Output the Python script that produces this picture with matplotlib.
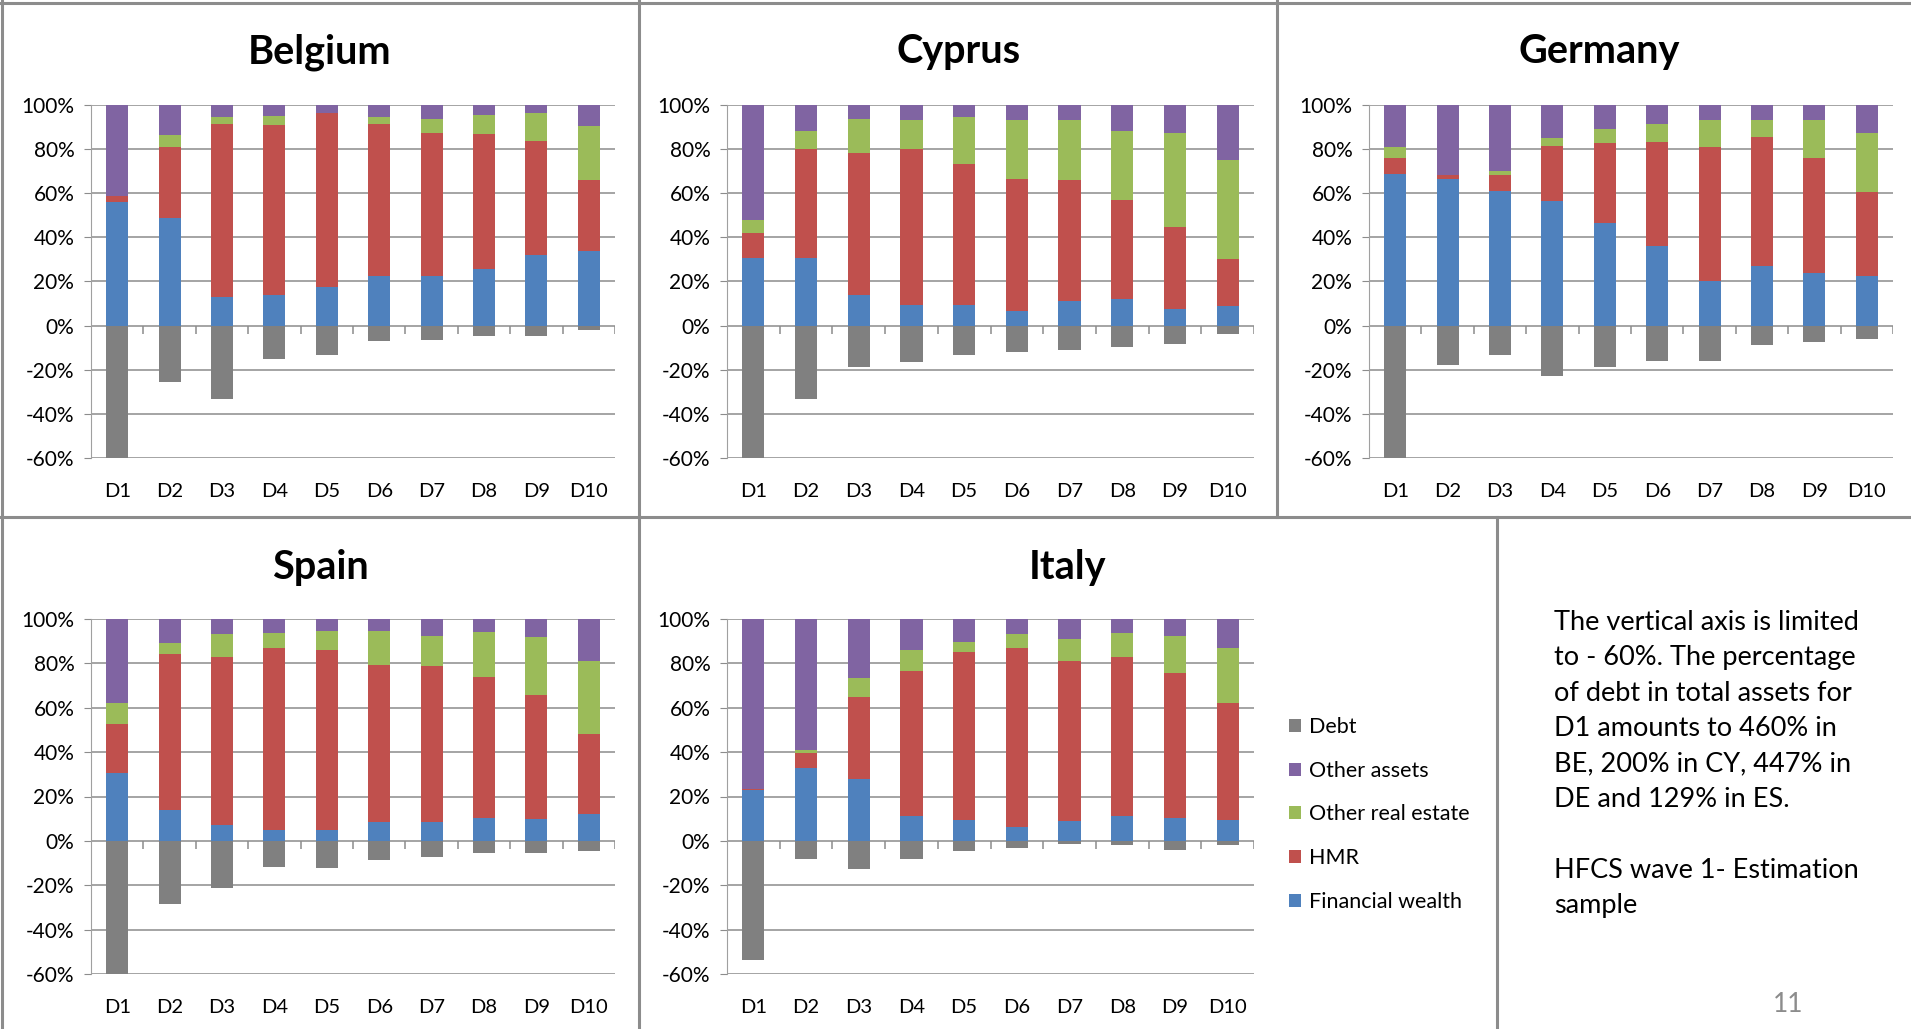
import matplotlib
matplotlib.use("Agg")
import matplotlib.pyplot as plt
import numpy as np
from matplotlib.lines import Line2D
from matplotlib.ticker import FuncFormatter

plt.rcParams['font.family'] = ['Lato', 'DejaVu Sans']

deciles = ['D1', 'D2', 'D3', 'D4', 'D5', 'D6', 'D7', 'D8', 'D9', 'D10']
series = ['Financial wealth', 'HMR', 'Other real estate', 'Other assets', 'Debt']
colors = ['#4F81BD', '#C0504D', '#9BBB59', '#8064A2', '#808080']

# shares in % of total assets
be_fin = [56.1, 48.9, 12.8, 14.1, 17.4, 22.6, 22.6, 25.7, 32.2, 33.8]
be_hmr = [2.5, 31.9, 78.8, 77.0, 78.8, 69.0, 64.9, 61.2, 51.7, 32.1]
be_ore = [0.0, 5.7, 3.1, 4.1, 0.0, 3.1, 6.2, 8.7, 12.3, 24.6]
be_oth = [41.4, 13.5, 5.3, 4.8, 3.8, 5.3, 6.3, 4.4, 3.8, 9.5]
be_debt = [-460, -25.4, -33.1, -15.0, -13.1, -6.8, -6.3, -4.8, -4.8, -1.8]

cy_fin = [30.8, 30.8, 14.1, 9.5, 9.5, 6.5, 11.1, 12.0, 7.5, 9.0]
cy_hmr = [11.2, 49.4, 64.1, 70.7, 63.6, 59.8, 54.8, 45.0, 37.0, 21.2]
cy_ore = [5.7, 8.2, 15.5, 12.9, 21.6, 26.8, 27.2, 31.0, 42.9, 44.7]
cy_oth = [52.3, 11.6, 6.3, 6.9, 5.3, 6.9, 6.9, 12.0, 12.6, 25.1]
cy_debt = [-200, -33.1, -18.8, -16.7, -13.1, -12.0, -11.0, -9.5, -8.4, -3.8]

de_fin = [68.9, 66.3, 61.1, 56.5, 46.3, 35.9, 20.3, 27.2, 23.9, 22.6]
de_hmr = [7.2, 2.1, 7.3, 24.9, 36.6, 47.4, 60.5, 58.2, 52.2, 38.0]
de_ore = [4.7, 0.0, 1.5, 3.6, 6.1, 8.3, 12.3, 7.7, 17.0, 26.8]
de_oth = [19.2, 31.6, 30.1, 15.0, 11.0, 8.4, 6.9, 6.9, 6.9, 12.6]
de_debt = [-447, -17.7, -13.1, -22.9, -18.8, -16.2, -16.2, -9.0, -7.4, -5.9]

es_fin = [30.6, 14.0, 7.2, 4.8, 4.8, 8.4, 8.4, 10.4, 9.9, 12.3]
es_hmr = [22.3, 70.3, 75.6, 82.1, 81.2, 70.8, 70.2, 63.5, 55.8, 35.9]
es_ore = [9.1, 4.7, 10.3, 6.8, 8.6, 15.4, 13.9, 20.2, 26.3, 33.0]
es_oth = [38.0, 11.0, 6.9, 6.3, 5.4, 5.4, 7.5, 5.9, 8.0, 18.8]
es_debt = [-129, -28.6, -21.4, -11.6, -12.2, -8.6, -7.1, -5.6, -5.6, -4.5]

it_fin = [22.9, 32.8, 28.1, 11.4, 9.5, 6.3, 8.9, 11.4, 10.4, 9.5]
it_hmr = [0.7, 6.6, 36.7, 65.3, 75.5, 80.6, 72.0, 71.5, 65.2, 52.6]
it_ore = [0.0, 1.7, 8.7, 9.2, 4.6, 6.3, 10.2, 10.8, 16.6, 24.8]
it_oth = [76.4, 58.9, 26.5, 14.1, 10.4, 6.8, 8.9, 6.3, 7.8, 13.1]
it_debt = [-53.5, -8.0, -12.6, -8.0, -4.4, -3.3, -1.4, -1.8, -3.9, -1.8]

note = ("The vertical axis is limited\nto - 60%. The percentage\nof debt in total assets for\n"
        "D1 amounts to 460% in\nBE, 200% in CY, 447% in\nDE and 129% in ES.\n\n"
        "HFCS wave 1- Estimation\nsample")

W, H = 1911, 1029
fig = plt.figure(figsize=(W / 100, H / 100), dpi=100)


def px_rect(x0, x1, ytop, ybot):
    return [x0 / W, 1 - ybot / H, (x1 - x0) / W, (ybot - ytop) / H]


def panel(rect, title, title_xy, fin, hmr, ore, oth, debt):
    ax = fig.add_axes(rect)
    x = np.arange(len(deciles))
    bottom = np.zeros(len(deciles))
    bars = []
    for vals, c, lab in zip([fin, hmr, ore, oth], colors[:4], series[:4]):
        b = ax.bar(x, vals, 0.42, bottom=bottom, color=c, label=lab, zorder=2)
        bars.append(b)
        bottom = bottom + np.array(vals)
    bars.append(ax.bar(x, debt, 0.42, color=colors[4], label=series[4], zorder=2))
    ax.set_xlim(-0.5, 9.5)
    ax.set_ylim(-60, 100)
    ax.set_yticks(range(-60, 101, 20))
    ax.yaxis.set_major_formatter(FuncFormatter(lambda v, p: f"{v:.0f}%"))
    ax.set_xticks(x, deciles)
    ax.yaxis.grid(True, color='#8c8c8c', lw=1.1, zorder=0)
    ax.set_axisbelow(True)
    for s in ['top', 'right', 'bottom']:
        ax.spines[s].set_visible(False)
    ax.spines['left'].set_color('#a0a0a0')
    ax.tick_params(axis='y', length=5, color='#8c8c8c', pad=7, labelsize=15)
    ax.tick_params(axis='x', length=0, pad=18, labelsize=14.5)
    ax.vlines(x + 0.5, -3.6, 0, color='#8c8c8c', lw=1.1, zorder=1)
    fig.text(title_xy[0] / W, 1 - title_xy[1] / H, title, fontsize=28.5,
             fontweight='bold', ha='center', va='center')
    return ax, bars


panel(px_rect(91, 615, 105, 458), 'Belgium', (320, 52),
      be_fin, be_hmr, be_ore, be_oth, be_debt)
panel(px_rect(727, 1254, 105, 458), 'Cyprus', (959, 52),
      cy_fin, cy_hmr, cy_ore, cy_oth, cy_debt)
panel(px_rect(1369, 1893, 105, 458), 'Germany', (1599, 52),
      de_fin, de_hmr, de_ore, de_oth, de_debt)
panel(px_rect(91, 615, 619, 974), 'Spain', (320, 568),
      es_fin, es_hmr, es_ore, es_oth, es_debt)
ax_it, bars = panel(px_rect(727, 1254, 619, 974), 'Italy', (1068, 568),
                    it_fin, it_hmr, it_ore, it_oth, it_debt)

# legend: Debt first, as in the reference
order = [4, 3, 2, 1, 0]
fig.legend([bars[i] for i in order], [series[i] for i in order],
           loc='upper left', bbox_to_anchor=(1289 / W, 1 - 717 / H),
           frameon=False, fontsize=15.5, handlelength=0.55, handleheight=0.55,
           handletextpad=0.4, labelspacing=1.1, borderpad=0, borderaxespad=0)

fig.text(1554 / W, 1 - 610 / H, note, fontsize=19.5, ha='left', va='top',
         linespacing=1.52)
fig.text(1788 / W, 1 - 1004 / H, '11', fontsize=19, color='#8c8c8c',
         ha='center', va='center')

# panel borders
border = '#8c8c8c'
segs = [((0, W), (3, 3)), ((1.5, 1.5), (0, H)), ((639, 639), (0, 517)),
        ((1277, 1277), (0, 517)), ((0, W), (517, 517)),
        ((639, 639), (517, H)), ((1497, 1497), (517, H))]
for (xa, xb), (ya, yb) in segs:
    fig.add_artist(Line2D([xa / W, xb / W], [1 - ya / H, 1 - yb / H],
                          color=border, lw=2.2))

fig.savefig('out.png', dpi=100)
